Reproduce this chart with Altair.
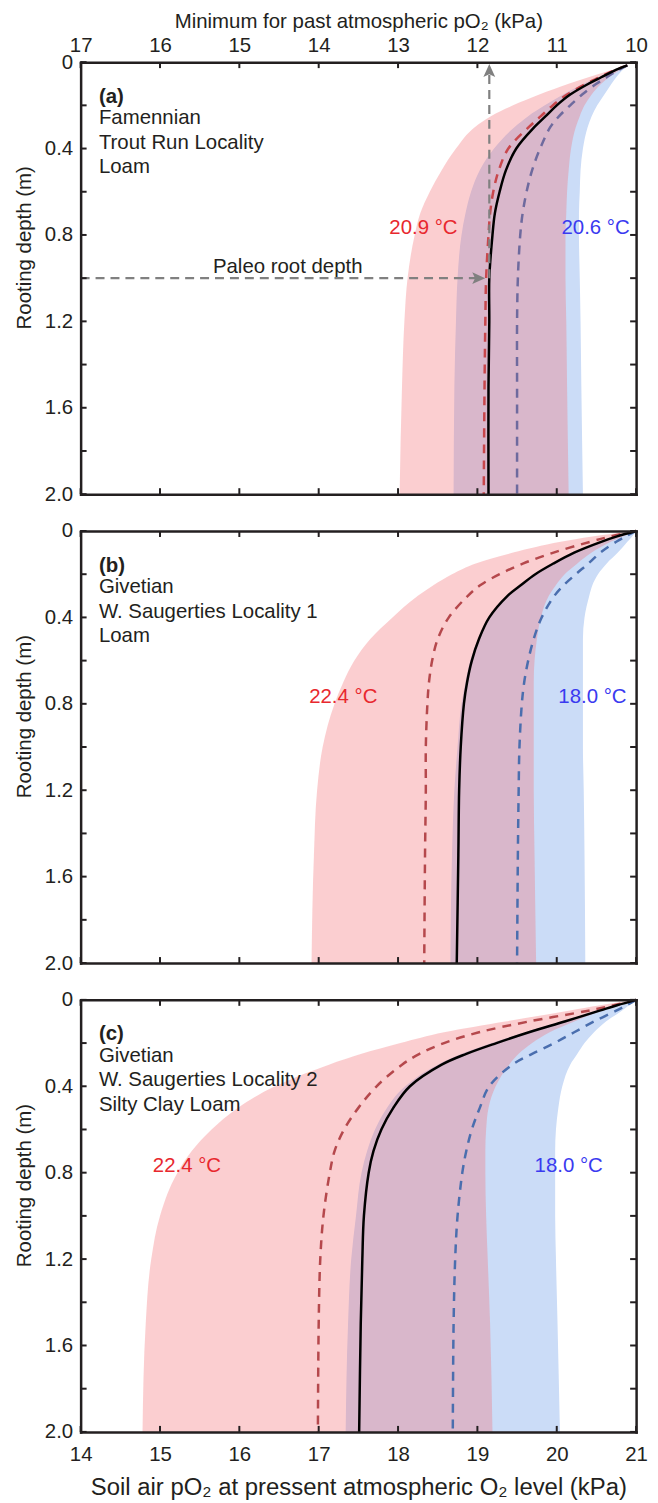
import altair as alt
import pandas as pd

FONT = "Liberation Sans"
INK = "#231f20"
FS = 20.5
W, H = 558, 434

BLUE_FILL = "#cbdcf7"
RED_FILL = "#f36f75"
RED_OPACITY = 0.34
HOT_TEXT = "#e8282e"
COLD_TEXT = "#3a3af0"
GRAY = "#808080"

# ---------------- depth grids (m) ----------------
DEPTH = [0.0, 0.025, 0.05, 0.1, 0.15, 0.2, 0.25, 0.3, 0.4, 0.5, 0.6, 0.7, 0.8, 1.0, 1.2, 1.5, 2.0]
DEPTH_A = [0.015, 0.04, 0.07, 0.1, 0.15, 0.2, 0.25, 0.3, 0.4, 0.5, 0.6, 0.7, 0.8, 1.0, 1.2, 1.5, 2.0]

# ---------------- panel (a): minimum past atmospheric pO2 (kPa, top axis) ----------------
A_RED_LO = [10.11, 10.34, 10.60, 10.85, 11.22, 11.55, 11.83, 12.03, 12.27, 12.45, 12.60, 12.72, 12.79, 12.88, 12.92, 12.95, 12.98]
A_RED_HI = [10.11, 10.22, 10.34, 10.44, 10.56, 10.65, 10.71, 10.76, 10.82, 10.85, 10.87, 10.88, 10.89, 10.89, 10.88, 10.87, 10.85]
A_BLUE_LO = [10.11, 10.28, 10.47, 10.66, 10.92, 11.15, 11.36, 11.53, 11.79, 11.97, 12.08, 12.15, 12.20, 12.25, 12.27, 12.29, 12.30]
A_BLUE_HI = [10.11, 10.18, 10.25, 10.31, 10.40, 10.49, 10.56, 10.61, 10.67, 10.70, 10.71, 10.72, 10.72, 10.71, 10.70, 10.69, 10.67]
A_BLACK = [10.11, 10.28, 10.44, 10.60, 10.83, 11.00, 11.14, 11.28, 11.51, 11.64, 11.72, 11.78, 11.81, 11.85, 11.85, 11.86, 11.86]
A_RED_DASH = [10.11, 10.29, 10.46, 10.63, 10.87, 11.05, 11.20, 11.35, 11.61, 11.73, 11.80, 11.84, 11.86, 11.89, 11.90, 11.91, 11.92]
A_BLUE_DASH = [10.11, 10.24, 10.37, 10.50, 10.68, 10.83, 10.97, 11.08, 11.21, 11.31, 11.38, 11.43, 11.46, 11.49, 11.50, 11.50, 11.50]

# ---------------- panel (b): soil air pO2 (kPa) ----------------
B_RED_LO = [21.0, 20.45, 20.05, 19.45, 18.98, 18.68, 18.45, 18.25, 17.93, 17.65, 17.45, 17.31, 17.20, 17.05, 16.98, 16.94, 16.91]
B_RED_HI = [21.0, 20.83, 20.68, 20.44, 20.26, 20.10, 19.99, 19.90, 19.80, 19.75, 19.72, 19.71, 19.71, 19.71, 19.71, 19.72, 19.74]
B_BLUE_LO = [21.0, 20.77, 20.58, 20.22, 19.95, 19.72, 19.54, 19.38, 19.16, 19.01, 18.91, 18.85, 18.80, 18.75, 18.71, 18.68, 18.66]
B_BLUE_HI = [21.0, 20.95, 20.89, 20.77, 20.63, 20.52, 20.45, 20.41, 20.35, 20.33, 20.33, 20.33, 20.33, 20.33, 20.34, 20.35, 20.36]
B_BLACK = [21.0, 20.76, 20.56, 20.22, 19.96, 19.73, 19.55, 19.38, 19.15, 19.02, 18.93, 18.87, 18.83, 18.79, 18.77, 18.76, 18.74]
B_RED_DASH = [21.0, 20.68, 20.42, 19.96, 19.58, 19.28, 19.04, 18.88, 18.64, 18.50, 18.43, 18.39, 18.37, 18.35, 18.35, 18.34, 18.33]
B_BLUE_DASH = [21.0, 20.87, 20.75, 20.55, 20.40, 20.24, 20.09, 19.97, 19.81, 19.71, 19.64, 19.59, 19.56, 19.53, 19.52, 19.51, 19.50]

# ---------------- panel (c): soil air pO2 (kPa) ----------------
C_RED_LO = [21.0, 20.55, 20.15, 19.35, 18.58, 18.03, 17.54, 17.13, 16.45, 15.98, 15.65, 15.40, 15.22, 15.00, 14.89, 14.82, 14.78]
C_RED_HI = [21.0, 20.80, 20.57, 20.22, 19.91, 19.69, 19.52, 19.40, 19.23, 19.14, 19.11, 19.10, 19.10, 19.11, 19.13, 19.16, 19.19]
C_BLUE_LO = [21.0, 20.75, 20.51, 20.05, 19.60, 19.18, 18.80, 18.50, 18.09, 17.86, 17.71, 17.61, 17.54, 17.47, 17.41, 17.37, 17.34]
C_BLUE_HI = [21.0, 20.91, 20.82, 20.62, 20.47, 20.35, 20.26, 20.17, 20.07, 20.02, 19.99, 19.98, 19.98, 19.98, 19.99, 20.01, 20.04]
C_BLACK = [21.0, 20.76, 20.54, 20.10, 19.65, 19.24, 18.86, 18.55, 18.15, 17.94, 17.79, 17.69, 17.63, 17.57, 17.55, 17.53, 17.51]
C_RED_DASH = [21.0, 20.72, 20.40, 19.65, 19.02, 18.58, 18.27, 18.05, 17.73, 17.50, 17.32, 17.20, 17.14, 17.06, 17.02, 17.00, 16.99]
C_BLUE_DASH = [21.0, 20.88, 20.75, 20.47, 20.22, 19.97, 19.69, 19.44, 19.15, 19.03, 18.93, 18.86, 18.81, 18.75, 18.72, 18.70, 18.69]

# ---------------- ticks, titles and texts ----------------
X_TICKS = [14, 15, 16, 17, 18, 19, 20, 21]
TOP_TICKS = [17, 16, 15, 14, 13, 12, 11, 10]
Y_TICKS = [0.0, 0.2, 0.4, 0.6, 0.8, 1.0, 1.2, 1.4, 1.6, 1.8, 2.0]
Y_LABELS = [0.0, 0.4, 0.8, 1.2, 1.6, 2.0]

X_TITLE = "Soil air pO\u2082 at pressent atmospheric O\u2082 level (kPa)"
TOP_TITLE = "Minimum for past atmospheric pO\u2082 (kPa)"
Y_TITLE = "Rooting depth (m)"

TAGS = ["(a)", "(b)", "(c)"]
INFO = [
    ["Famennian", "Trout Run Locality", "Loam"],
    ["Givetian", "W. Saugerties Locality 1", "Loam"],
    ["Givetian", "W. Saugerties Locality 2", "Silty Clay Loam"],
]
TAG_DEPTH = 0.16
INFO_DEPTHS = [0.261, 0.373, 0.485]
INFO_X = [16.77, 14.23, 14.23]

HOT_LABELS = ["20.9 \u00b0C", "22.4 \u00b0C", "22.4 \u00b0C"]
COLD_LABELS = ["20.6 \u00b0C", "18.0 \u00b0C", "18.0 \u00b0C"]
HOT_X = [12.68, 17.31, 15.34]
COLD_X = [10.51, 20.45, 20.15]
TEMP_DEPTH = 0.768

PALEO_TEXT = "Paleo root depth"
PALEO_TEXT_X = 14.39
PALEO_TEXT_DEPTH = 0.976
PALEO_DEPTH = 1.0
PALEO_O2 = 11.85
H_ARROW_FROM = 17.0
H_ARROW_HEAD = 11.99
V_ARROW_HEAD = 0.041

UP_HEAD = "M0,-1L0.85,0.85L0,0.45L-0.85,0.85Z"
RIGHT_HEAD = "M1,0L-0.85,0.85L-0.45,0L-0.85,-0.85Z"
TICK_LEN = 6


def frame_axis(orient, offset):
    # axis used only to draw one side of the frame (its domain line)
    return alt.Axis(orient=orient, offset=offset, labels=False, ticks=False, tickSize=0,
                    domain=True, domainColor=INK, domainWidth=2.5, domainCap="square",
                    grid=False, title=None, zindex=1)


y_label_axis = alt.Axis(orient="left", values=Y_LABELS,
                        labelExpr="datum.value == 0 ? '0' : format(datum.value, '.1f')",
                        ticks=False, tickSize=0, domain=False, grid=False, labelPadding=8,
                        title=Y_TITLE, titlePadding=10, titleY=186)

top_label_axis = alt.Axis(orient="top", values=TOP_TICKS, format="d", ticks=False, tickSize=0,
                          domain=False, grid=False, labelPadding=7, title=TOP_TITLE, titlePadding=4)

bottom_label_axis = alt.Axis(orient="bottom", values=X_TICKS, format="d", ticks=False, tickSize=0,
                             domain=False, grid=False, labelPadding=13, title=X_TITLE,
                             titlePadding=10, titleFontSize=24)


def make_panel(i, depth, red_lo, red_hi, blue_lo, blue_hi, black, red_dash, blue_dash,
               xdomain, xreverse, ticks, main_axis, red_dash_color, blue_dash_color, extra=()):
    df = pd.DataFrame({"depth": depth, "red_lo": red_lo, "red_hi": red_hi, "blue_lo": blue_lo,
                       "blue_hi": blue_hi, "black": black, "red_dash": red_dash,
                       "blue_dash": blue_dash})
    xs = alt.Scale(domain=xdomain, reverse=xreverse, nice=False, zero=False)
    ys = alt.Scale(domain=[0, 2], reverse=True, nice=False, zero=False)

    def X(field, axis=None):
        return alt.X(field, type="quantitative", scale=xs, axis=axis)

    def Y(field, axis=None):
        return alt.Y(field, type="quantitative", scale=ys, axis=axis)

    base = alt.Chart(df)
    blue = base.mark_area(orient="horizontal", color=BLUE_FILL, interpolate="monotone").encode(
        y=Y("depth", y_label_axis), x=X("blue_lo", main_axis), x2="blue_hi:Q")
    red = base.mark_area(orient="horizontal", color=RED_FILL, opacity=RED_OPACITY,
                         interpolate="monotone").encode(
        y=Y("depth", frame_axis("right", -W)),
        x=X("red_lo", frame_axis("top", -H)), x2="red_hi:Q")
    rdash = base.mark_line(color=red_dash_color, strokeWidth=2.5, strokeDash=[9, 7],
                           interpolate="catmull-rom").encode(
        y=Y("depth", frame_axis("left", -W)),
        x=X("red_dash", frame_axis("bottom", -H)), order="depth:Q")
    bdash = base.mark_line(color=blue_dash_color, strokeWidth=2.5, strokeDash=[9, 7],
                           interpolate="catmull-rom").encode(
        y=Y("depth"), x=X("blue_dash"), order="depth:Q")
    blk = base.mark_line(color="#000000", strokeWidth=2.5, interpolate="catmull-rom").encode(
        y=Y("depth"), x=X("black"), order="depth:Q")

    # inward ticks on all four sides
    xt = alt.Chart(pd.DataFrame({"v": ticks}))
    yt = alt.Chart(pd.DataFrame({"d": Y_TICKS}))
    rule = dict(color=INK, strokeWidth=2)
    t_top = xt.mark_rule(**rule).encode(x=X("v"), y=alt.value(0), y2=alt.value(TICK_LEN))
    t_bot = xt.mark_rule(**rule).encode(x=X("v"), y=alt.value(H - TICK_LEN), y2=alt.value(H))
    t_left = yt.mark_rule(**rule).encode(y=Y("d"), x=alt.value(0), x2=alt.value(TICK_LEN))
    t_right = yt.mark_rule(**rule).encode(y=Y("d"), x=alt.value(W - TICK_LEN), x2=alt.value(W))

    tag_df = pd.DataFrame({"x": [INFO_X[i]], "y": [TAG_DEPTH], "t": [TAGS[i]]})
    tag = alt.Chart(tag_df).mark_text(align="left", baseline="middle", font=FONT, fontSize=FS,
                                      fontWeight="bold", color=INK).encode(
        x=X("x"), y=Y("y"), text="t:N")
    info_df = pd.DataFrame({"x": [INFO_X[i]] * 3, "y": INFO_DEPTHS, "t": INFO[i]})
    info = alt.Chart(info_df).mark_text(align="left", baseline="middle", font=FONT, fontSize=FS,
                                        color=INK).encode(x=X("x"), y=Y("y"), text="t:N")
    hot_df = pd.DataFrame({"x": [HOT_X[i]], "y": [TEMP_DEPTH], "t": [HOT_LABELS[i]]})
    hot = alt.Chart(hot_df).mark_text(align="center", baseline="middle", font=FONT, fontSize=FS,
                                      color=HOT_TEXT).encode(x=X("x"), y=Y("y"), text="t:N")
    cold_df = pd.DataFrame({"x": [COLD_X[i]], "y": [TEMP_DEPTH], "t": [COLD_LABELS[i]]})
    cold = alt.Chart(cold_df).mark_text(align="center", baseline="middle", font=FONT, fontSize=FS,
                                        color=COLD_TEXT).encode(x=X("x"), y=Y("y"), text="t:N")

    layers = [blue, red, rdash, bdash, blk]
    for make in extra:
        layers.extend(make(X, Y))
    layers += [tag, info, hot, cold, t_top, t_bot, t_left, t_right]
    return alt.layer(*layers).resolve_axis(x="independent", y="independent").properties(
        width=W, height=H)


def paleo_layers(X, Y):
    hline = alt.Chart(pd.DataFrame({"x": [H_ARROW_FROM], "x2": [H_ARROW_HEAD], "y": [PALEO_DEPTH]})
                      ).mark_rule(color=GRAY, strokeWidth=2.2, strokeDash=[9, 6]).encode(
        x=X("x"), x2="x2:Q", y=Y("y"))
    vline = alt.Chart(pd.DataFrame({"x": [PALEO_O2], "y": [PALEO_DEPTH], "y2": [V_ARROW_HEAD]})
                      ).mark_rule(color=GRAY, strokeWidth=2.2, strokeDash=[9, 6]).encode(
        x=X("x"), y=Y("y"), y2="y2:Q")
    up = alt.Chart(pd.DataFrame({"x": [PALEO_O2], "y": [V_ARROW_HEAD]})).mark_point(
        shape=UP_HEAD, filled=True, size=196, color=GRAY, opacity=1).encode(x=X("x"), y=Y("y"))
    right = alt.Chart(pd.DataFrame({"x": [H_ARROW_HEAD], "y": [PALEO_DEPTH]})).mark_point(
        shape=RIGHT_HEAD, filled=True, size=196, color=GRAY, opacity=1).encode(x=X("x"), y=Y("y"))
    txt = alt.Chart(pd.DataFrame({"x": [PALEO_TEXT_X], "y": [PALEO_TEXT_DEPTH], "t": [PALEO_TEXT]})
                    ).mark_text(align="center", baseline="alphabetic", font=FONT, fontSize=FS,
                                color=INK).encode(x=X("x"), y=Y("y"), text="t:N")
    return [hline, vline, up, right, txt]


pa = make_panel(0, DEPTH_A, A_RED_LO, A_RED_HI, A_BLUE_LO, A_BLUE_HI, A_BLACK, A_RED_DASH,
                A_BLUE_DASH, [10, 17], True, TOP_TICKS, top_label_axis, "#c8474c", "#6e6a9e",
                extra=(paleo_layers,))
pb = make_panel(1, DEPTH, B_RED_LO, B_RED_HI, B_BLUE_LO, B_BLUE_HI, B_BLACK, B_RED_DASH,
                B_BLUE_DASH, [14, 21], False, X_TICKS, None, "#b5484c", "#4a6eae")
pc = make_panel(2, DEPTH, C_RED_LO, C_RED_HI, C_BLUE_LO, C_BLUE_HI, C_BLACK, C_RED_DASH,
                C_BLUE_DASH, [14, 21], False, X_TICKS, bottom_label_axis, "#b5484c", "#4a6eae")

chart = alt.vconcat(pa, pb, pc, spacing=37, bounds="flush").resolve_scale(
    x="independent", y="independent").properties(
    padding={"left": 14, "top": 8, "right": 10, "bottom": 0}
).configure_view(strokeWidth=0).configure_axis(
    labelFont=FONT, labelFontSize=FS, labelColor=INK, titleFont=FONT, titleFontSize=FS,
    titleFontWeight="normal", titleColor=INK, labelFlush=False, labelOverlap=False, grid=False)

chart.save("out.html", embed_options={"renderer": "svg", "actions": False})
